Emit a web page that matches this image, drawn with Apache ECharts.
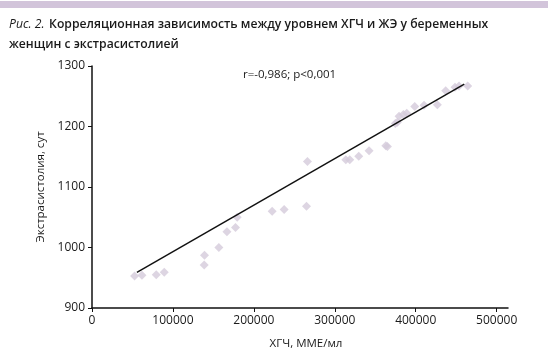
<!DOCTYPE html>
<html>
<head>
<meta charset="utf-8">
<script src="https://cdn.jsdelivr.net/npm/echarts@6/dist/echarts.min.js"></script>
<style>html,body{margin:0;padding:0;background:#fff;}#c{width:550px;height:362px;}</style>
</head>
<body>
<div id="c"></div>
<script>
// ХГЧ, ММЕ/мл
const hcg = [52600, 61700, 79400, 89300, 138600, 139000, 156800, 166700, 177300, 179400, 222600,
  237400, 265000, 266200, 313600, 318500, 329600, 342300, 363000, 365000, 374800, 377300,
  379400, 384700, 388900, 398800, 410300, 426700, 437000, 448500, 453500, 464200];
// Экстрасистолия, сут
const extra = [953, 954, 955, 959, 971, 987, 1000, 1026, 1033, 1050, 1060,
  1063, 1068, 1142, 1145, 1145, 1151, 1160, 1168, 1167, 1205, 1207,
  1217, 1220, 1222, 1233, 1235, 1236, 1259, 1265, 1267, 1267];
// regression line endpoints
const fitX = [55500, 460000];
const fitY = [958.8, 1270];
const xTicks = [0, 100000, 200000, 300000, 400000, 500000];
const yTicks = [900, 1000, 1100, 1200, 1300];

const pts = hcg.map((v, i) => [v, extra[i]]);
const fit = fitX.map((v, i) => [v, fitY[i]]);

const chart = echarts.init(document.getElementById('c'), null, {renderer: 'canvas'});
const font = '"Open Sans", "Noto Sans", sans-serif';
chart.setOption({
  animation: false,
  backgroundColor: '#fff',
  textStyle: {fontFamily: font},
  title: [{
    left: 4, top: 10,
    text: '{i|Рис. 2.} {b|Корреляционная зависимость между уровнем ХГЧ и ЖЭ у беременных}\n{b|женщин с экстрасистолией}',
    textStyle: {
      fontWeight: 'normal',
      rich: {
        i: {fontStyle: 'italic', fontWeight: 'normal', fontSize: 12.2, fontFamily: font, color: '#1a1a1a', lineHeight: 20},
        b: {fontWeight: 600, fontSize: 12.2, fontFamily: font, color: '#1a1a1a', lineHeight: 20}
      }
    }
  }],
  graphic: {
    elements: [
      {type: 'rect', x: 0, y: 0, shape: {x: 0, y: 1, width: 548, height: 7}, style: {fill: '#d2c4da'}, z: 100, zlevel: 1},
      {type: 'text', x: 243, y: 69, style: {text: 'r=-0,986; p<0,001', fontSize: 11.5, fontFamily: font, fill: '#1a1a1a'}, z: 100}
    ]
  },
  grid: {left: 92, right: 42, top: 66, bottom: 54, containLabel: false},
  xAxis: {
    type: 'value', min: 0, max: 514000, interval: 100000,
    name: 'ХГЧ, ММЕ/мл', nameLocation: 'middle', nameGap: 30,
    nameTextStyle: {fontSize: 11.5, color: '#1a1a1a', fontFamily: font, padding: [0, 0, 0, 12]},
    axisLine: {lineStyle: {color: '#111', width: 1.5}},
    axisTick: {show: true, inside: false, length: 4, lineStyle: {color: '#111', width: 1}, customValues: xTicks},
    axisLabel: {fontSize: 12, color: '#1a1a1a', margin: 7, fontFamily: font, customValues: xTicks,
      formatter: v => String(v)},
    splitLine: {show: false}
  },
  yAxis: {
    type: 'value', min: 900, max: 1300, interval: 100,
    name: 'Экстрасистолия, сут', nameLocation: 'middle', nameGap: 42, nameRotate: 90,
    nameTextStyle: {fontSize: 11.5, color: '#1a1a1a', fontFamily: font},
    axisLine: {show: true, lineStyle: {color: '#111', width: 1.5}},
    axisTick: {show: true, inside: false, length: 4, lineStyle: {color: '#111', width: 1}, customValues: yTicks},
    axisLabel: {fontSize: 12, color: '#1a1a1a', margin: 7, fontFamily: font, customValues: yTicks,
      formatter: v => String(v)},
    splitLine: {show: false}
  },
  series: [
    {
      type: 'scatter', data: pts, symbol: 'diamond', symbolSize: 9,
      itemStyle: {color: '#d5cadb'}, z: 2
    },
    {
      type: 'line', data: fit, showSymbol: false, symbol: 'none',
      lineStyle: {color: '#111', width: 1.5}, z: 3
    }
  ]
});
</script>
</body>
</html>
